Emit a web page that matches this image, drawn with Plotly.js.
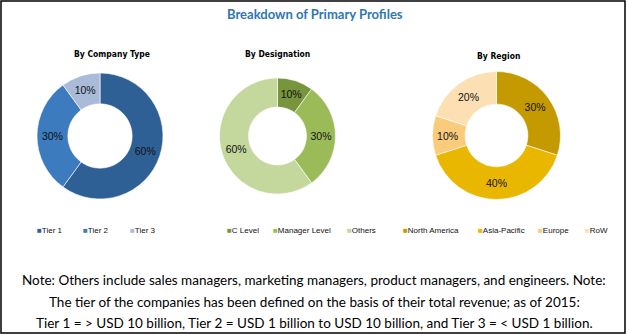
<!DOCTYPE html>
<html>
<head>
<meta charset="utf-8">
<script src="https://cdn.plot.ly/plotly-3.0.1.min.js"></script>
<style>html,body{margin:0;padding:0;background:#fff;}#chart{width:627px;height:334px;}</style>
</head>
<body>
<div id="chart"></div>
<script>
// ---- data ----
const chartTitle = "Breakdown of Primary Profiles";
const companyLabels = ["Tier 1", "Tier 2", "Tier 3"];
const companyValues = [60, 30, 10];
const designationLabels = ["C Level", "Manager Level", "Others"];
const designationValues = [10, 30, 60];
const regionLabels = ["North America", "Asia-Pacific", "Europe", "RoW"];
const regionValues = [30, 40, 10, 20];
const subTitles = ["By Company Type", "By Designation", "By Region"];
const noteLines = [
  "Note: Others include sales managers, marketing managers, product managers, and engineers. Note:",
  "The tier of the companies has been defined on the basis of their total revenue; as of 2015:",
  "Tier 1 = > USD 10 billion, Tier 2 = USD 1 billion to USD 10 billion, and Tier 3 = < USD 1 billion."
];

// ---- styling / layout ----
const W = 627, H = 334;
const companyColors = ["#2F6095", "#3B7BBE", "#A9BBD8"];
const designationColors = ["#78943D", "#9BBB59", "#C4D79C"];
const regionColors = ["#C49A00", "#E9B600", "#FACB7A", "#FCDFB3"];

function px2x(p){ return p / W; }
function px2y(p){ return (H - p) / H; }
function dom(cx, cy, r){ return {x:[px2x(cx-r), px2x(cx+r)], y:[px2y(cy+r), px2y(cy-r)]}; }

const pies = [
  {labels: companyLabels, values: companyValues, colors: companyColors, cx:100, cy:136, r:63, hole:0.51,
   sub:{x:112, y:54}, legendX:[37, 83, 130]},
  {labels: designationLabels, values: designationValues, colors: designationColors, cx:277.5, cy:136, r:58, hole:0.5,
   sub:{x:277, y:54}, legendX:[227, 273, 347]},
  {labels: regionLabels, values: regionValues, colors: regionColors, cx:496.5, cy:135.5, r:64, hole:0.49,
   sub:{x:498, y:56}, legendX:[403, 478, 538, 585]}
];

const traces = pies.map(p => ({
  type: 'pie',
  labels: p.labels,
  values: p.values,
  sort: false,
  direction: 'clockwise',
  rotation: 0,
  hole: p.hole,
  domain: dom(p.cx, p.cy, p.r),
  marker: {colors: p.colors, line: {color: '#ffffff', width: 0.6}},
  texttemplate: '%{percent:.0%}',
  textposition: 'inside',
  insidetextorientation: 'horizontal',
  textfont: {family: 'Liberation Sans, Arial, sans-serif', size: 10.5, color: '#111111'},
  showlegend: false,
  hoverinfo: 'label+percent'
}));

const annotations = [];
annotations.push({
  text: '<b>' + chartTitle + '</b>', xref:'paper', yref:'paper', x: px2x(315), y: px2y(14),
  xanchor:'center', yanchor:'middle', showarrow:false,
  font:{family:'Lato, Open Sans, sans-serif', size:13, color:'#2E75B6'}
});
pies.forEach((p, i) => {
  annotations.push({
    text: '<b>' + subTitles[i] + '</b>', xref:'paper', yref:'paper', x: px2x(p.sub.x), y: px2y(p.sub.y),
    xanchor:'center', yanchor:'middle', showarrow:false,
    font:{family:'DejaVu Sans Condensed, Liberation Sans Narrow, sans-serif', size:8.5, color:'#000000'}
  });
  p.labels.forEach((lab, j) => {
    annotations.push({
      text: '<span style="color:' + p.colors[j] + '">■</span>' + lab,
      xref:'paper', yref:'paper', x: px2x(p.legendX[j] - 2), y: px2y(230),
      xanchor:'left', yanchor:'middle', showarrow:false,
      font:{family:'Liberation Sans, Arial, sans-serif', size:8, color:'#111111'}
    });
  });
});
const noteY = [280, 302, 323];
noteLines.forEach((t, i) => {
  annotations.push({
    text: t, xref:'paper', yref:'paper', x: px2x(314), y: px2y(noteY[i]),
    xanchor:'center', yanchor:'middle', showarrow:false,
    font:{family:'Lato, Open Sans, sans-serif', size:13.5, color:'#000000'}
  });
});

const layout = {
  width: W, height: H,
  margin: {l:0, r:0, t:0, b:0},
  paper_bgcolor: '#ffffff',
  showlegend: false,
  annotations: annotations,
  shapes: [{type:'rect', xref:'paper', yref:'paper', x0: px2x(1), x1: px2x(625), y0: px2y(333), y1: px2y(1),
            line:{color:'#000000', width:1.5}, layer:'above'}]
};

Plotly.newPlot('chart', traces, layout, {displayModeBar:false, staticPlot:true});
</script>
</body>
</html>
